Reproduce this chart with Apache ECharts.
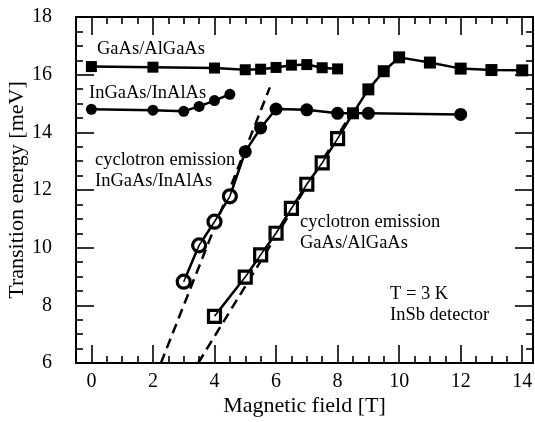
<!DOCTYPE html>
<html>
<head>
<meta charset="utf-8">
<script src="https://cdn.jsdelivr.net/npm/echarts@6/dist/echarts.min.js"></script>
<style>
html,body{margin:0;padding:0;background:#fff;}
#chart{width:535px;height:422px;}
</style>
</head>
<body>
<div id="chart"></div>
<script>
// ---- data ----
var gaasBandB = [0, 2, 4, 5, 5.5, 6, 6.5, 7, 7.5, 8];
var gaasBandE = [16.28, 16.26, 16.23, 16.17, 16.19, 16.25, 16.33, 16.35, 16.24, 16.2];

var ingaasBandB = [0, 2, 3, 3.5, 4, 4.5];
var ingaasBandE = [14.8, 14.77, 14.73, 14.9, 15.1, 15.32];

var gaasCycB = [4, 5, 5.5, 6, 6.5, 7, 7.5, 8, 8.5, 9, 9.5, 10, 11, 12, 13, 14];
var gaasCycE = [7.62, 8.98, 9.75, 10.5, 11.36, 12.2, 12.94, 13.78, 14.66, 15.49, 16.12, 16.6, 16.42, 16.21, 16.16, 16.15];
var gaasCycOpen = 8; // first 8 points are open squares

var ingaasCycB = [3, 3.5, 4, 4.5, 5, 5.5, 6, 7, 8, 9, 12];
var ingaasCycE = [8.82, 10.08, 10.9, 11.78, 13.33, 14.15, 14.81, 14.78, 14.66, 14.66, 14.62];
var ingaasCycOpen = 4; // first 4 points are open circles

var ingaasFitB = [2.26, 5.8];
var ingaasFitE = [6.0, 15.56];
var gaasFitB = [3.47, 8.3];
var gaasFitE = [6.0, 14.4];

var xMajorTicks = [0, 2, 4, 6, 8, 10, 12, 14];
var xMinorTicks = [0.5, 1, 1.5, 2.5, 3, 3.5, 4.5, 5, 5.5, 6.5, 7, 7.5, 8.5, 9, 9.5, 10.5, 11, 11.5, 12.5, 13, 13.5];
var yMajorTicks = [6, 8, 10, 12, 14, 16, 18];
var yMinorTicks = [6.5, 7, 7.5, 8.5, 9, 9.5, 10.5, 11, 11.5, 12.5, 13, 13.5, 14.5, 15, 15.5, 16.5, 17, 17.5];

// ---- helpers ----
function pairs(xs, ys) { return xs.map(function (x, i) { return [x, ys[i]]; }); }
var FONT = '"Liberation Serif", "Times New Roman", serif';
var X_MIN = -0.5, X_MAX = 14.35, Y_MIN = 6, Y_MAX = 18;

function xAx(pos, major, showLabel) {
  return {
    type: 'value', position: pos, min: X_MIN, max: X_MAX,
    axisLine: { show: major, onZero: false, lineStyle: { color: '#000', width: 2 } },
    axisTick: { show: true, inside: true, length: major ? 18 : 7, customValues: major ? xMajorTicks : xMinorTicks,
      lineStyle: { color: '#000', width: 1.6 } },
    axisLabel: { show: showLabel, customValues: xMajorTicks, fontFamily: FONT, fontSize: 20, color: '#000', margin: 9 },
    splitLine: { show: false },
    name: showLabel ? 'Magnetic field [T]' : '',
    nameLocation: 'middle', nameGap: 32, nameMoveOverlap: false,
    nameTextStyle: { fontFamily: FONT, fontSize: 22, color: '#000' }
  };
}
function yAx(pos, major, showLabel) {
  return {
    type: 'value', position: pos, min: Y_MIN, max: Y_MAX,
    axisLine: { show: major, onZero: false, lineStyle: { color: '#000', width: 2 } },
    axisTick: { show: true, inside: true, length: major ? 18 : 7, customValues: major ? yMajorTicks : yMinorTicks,
      lineStyle: { color: '#000', width: 1.6 } },
    axisLabel: { show: showLabel, customValues: yMajorTicks, fontFamily: FONT, fontSize: 20, color: '#000', margin: 24 },
    splitLine: { show: false },
    name: showLabel ? 'Transition energy [meV]' : '',
    nameLocation: 'middle', nameGap: 48, nameRotate: 90, nameMoveOverlap: false,
    nameTextStyle: { fontFamily: FONT, fontSize: 22, color: '#000' }
  };
}

function mixedData(xs, ys, nOpen) {
  return xs.map(function (x, i) {
    var open = i < nOpen;
    return {
      value: [x, ys[i]],
      itemStyle: open ? { color: '#fff', borderColor: '#000', borderWidth: 3.2 } : { color: '#000', borderWidth: 0 }
    };
  });
}

var series = [
  { type: 'line', data: pairs(gaasBandB, gaasBandE), symbol: 'rect', symbolSize: 11,
    lineStyle: { color: '#000', width: 2.5 }, itemStyle: { color: '#000' }, z: 3 },
  { type: 'line', data: pairs(ingaasBandB, ingaasBandE), symbol: 'circle', symbolSize: 11,
    lineStyle: { color: '#000', width: 2.5 }, itemStyle: { color: '#000' }, z: 3 },
  { type: 'line', data: pairs(ingaasFitB, ingaasFitE), symbol: 'none',
    lineStyle: { color: '#000', width: 2.5, type: [10, 6] }, z: 2 },
  { type: 'line', data: pairs(gaasFitB, gaasFitE), symbol: 'none',
    lineStyle: { color: '#000', width: 2.5, type: [10, 6] }, z: 2 },
  { type: 'line', data: mixedData(gaasCycB, gaasCycE, gaasCycOpen), symbol: 'rect', symbolSize: 12,
    lineStyle: { color: '#000', width: 2.5 }, z: 3 },
  { type: 'line', data: mixedData(ingaasCycB, ingaasCycE, ingaasCycOpen), symbol: 'circle', symbolSize: 13,
    lineStyle: { color: '#000', width: 2.5 }, z: 3 },
  // line drawn over the open markers (line passes through the open symbols)
  { type: 'line', data: pairs(gaasCycB.slice(0, gaasCycOpen + 1), gaasCycE.slice(0, gaasCycOpen + 1)), symbol: 'none',
    lineStyle: { color: '#000', width: 1.6 }, z: 5 },
  { type: 'line', data: pairs(ingaasCycB.slice(0, ingaasCycOpen + 1), ingaasCycE.slice(0, ingaasCycOpen + 1)), symbol: 'none',
    lineStyle: { color: '#000', width: 1.6 }, z: 5 }
];
series.forEach(function (s) { s.animation = false; s.xAxisIndex = 0; s.yAxisIndex = 0; s.silent = true; });

function txt(text, left, top) {
  return { type: 'text', left: left, top: top, z: 10,
    style: { text: text, font: '18.5px ' + FONT, fill: '#000', lineHeight: 21 } };
}

var option = {
  animation: false,
  backgroundColor: '#fff',
  grid: { left: 76, top: 17, right: 2, bottom: 59, containLabel: false, outerBoundsMode: 'none' },
  xAxis: [xAx('bottom', true, true), xAx('bottom', false, false), xAx('top', true, false), xAx('top', false, false)],
  yAxis: [yAx('left', true, true), yAx('left', false, false), yAx('right', true, false), yAx('right', false, false)],
  series: series,
  graphic: [
    txt('GaAs/AlGaAs', 97, 39),
    txt('InGaAs/InAlAs', 89, 83),
    txt('cyclotron emission\nInGaAs/InAlAs', 95, 150),
    txt('cyclotron emission\nGaAs/AlGaAs', 300, 212),
    txt('T = 3 K\nInSb detector', 390, 284)
  ]
};

var chart = echarts.init(document.getElementById('chart'), null, { renderer: 'canvas' });
chart.setOption(option);
</script>
</body>
</html>
